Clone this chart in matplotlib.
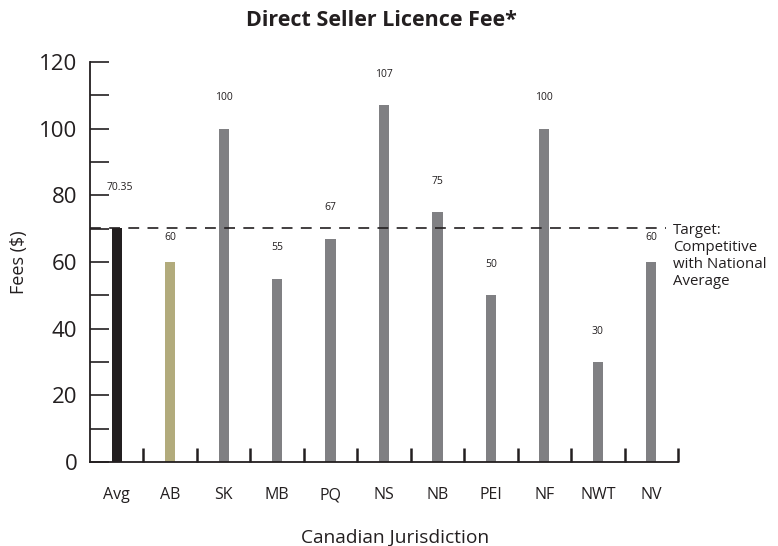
import matplotlib
matplotlib.use("Agg")
import matplotlib.pyplot as plt
import numpy as np
from matplotlib import ticker

plt.rcParams['font.family'] = ['Open Sans', 'DejaVu Sans']

# data
jurisdictions = ['Avg', 'AB', 'SK', 'MB', 'PQ', 'NS', 'NB', 'PEI', 'NF', 'NWT', 'NV']
fees = [70.35, 60, 100, 55, 67, 107, 75, 50, 100, 30, 60]
value_labels = ['70.35', '60', '100', '55', '67', '107', '75', '50', '100', '30', '60']
national_avg = 70.35

# styling
bar_colors = ['#231f20', '#b2ab7c'] + ['#808083'] * 9
label_offsets = [12, 7.2, 9.3, 9.3, 9.3, 9.3, 9.3, 9.3, 9.3, 9.3, 7.2]
text_col = '#231f20'

fig = plt.figure(figsize=(7.78, 5.46), dpi=100)
ax = fig.add_axes([90 / 778, 1 - 462 / 546, 588 / 778, 400 / 546])

x = np.arange(len(jurisdictions))
ax.bar(x, fees, width=0.19, color=bar_colors, zorder=2)

for xi, v, lab, off in zip(x, fees, value_labels, label_offsets):
    ax.text(xi + (0.05 if xi == 0 else 0), v + off, lab, ha='center', va='center',
            fontsize=7.5, color=text_col)

ax.plot([-0.5, 10.27], [national_avg, national_avg], color=text_col, lw=1.2,
        dashes=(6.5, 5), zorder=3, clip_on=False)
ax.text(10.40, 71.8, 'Target:\nCompetitive\nwith National\nAverage', ha='left', va='top',
        fontsize=10.8, color=text_col, linespacing=1.18, clip_on=False)

ax.set_xlim(-0.5, 10.5)
ax.set_ylim(0, 120)

for s in ['top', 'right']:
    ax.spines[s].set_visible(False)
for s in ['left', 'bottom']:
    ax.spines[s].set_color(text_col)
    ax.spines[s].set_linewidth(1.3)

ax.yaxis.set_major_locator(ticker.MultipleLocator(20))
ax.yaxis.set_minor_locator(ticker.MultipleLocator(10))
ax.tick_params(axis='y', which='both', direction='in', length=14, width=1.2,
               color=text_col, pad=9, labelsize=16, labelcolor=text_col)

ax.set_xticks(x)
ax.set_xticklabels(jurisdictions)
ax.set_xticks(np.arange(0.5, 10.6, 1), minor=True)
ax.tick_params(axis='x', which='major', length=0, pad=18, labelsize=11.5, labelcolor=text_col)
ax.tick_params(axis='x', which='minor', direction='in', length=10, width=1.8, color=text_col)

ax.set_ylabel('Fees ($)', fontsize=13, color=text_col)
ax.yaxis.set_label_coords(-0.106, 0.5)
ax.set_xlabel('Canadian Jurisdiction', fontsize=13.8, color=text_col)
ax.xaxis.set_label_coords(0.519, -0.166)

fig.text(381 / 778, 1 - 20 / 546, 'Direct Seller Licence Fee*', ha='center', va='center',
         fontsize=15.5, fontweight='bold', color=text_col)

fig.savefig('out.png', dpi=100)
